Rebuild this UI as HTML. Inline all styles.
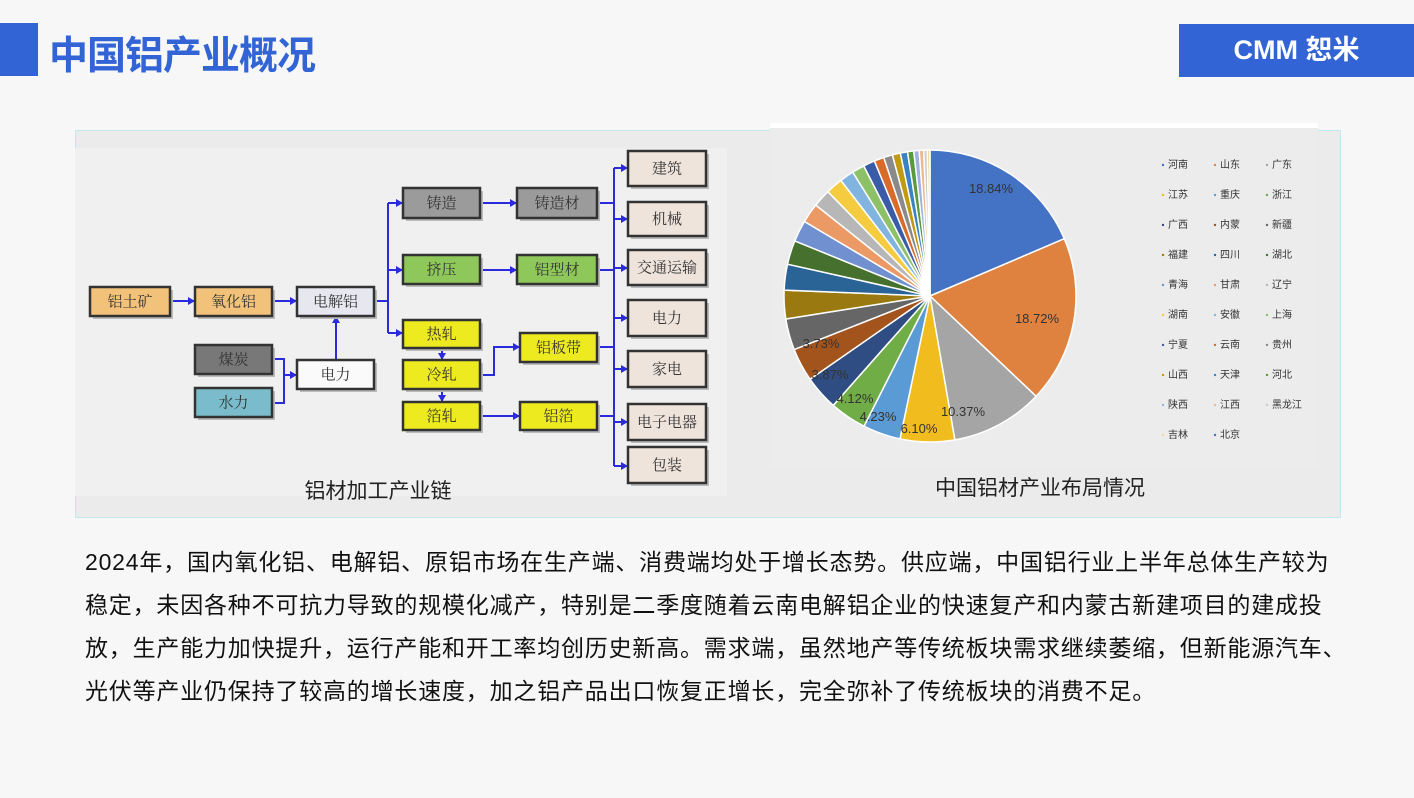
<!DOCTYPE html>
<html><head><meta charset="utf-8"><style>
body{margin:0;width:1414px;height:798px;background:#f7f7f7;overflow:hidden;position:relative;font-family:"Liberation Sans","Noto Sans CJK SC",sans-serif}
.bar{position:absolute;left:0;top:23px;width:38px;height:53px;background:#3264d6}
.title{position:absolute;left:49px;top:25px;font-size:39px;font-weight:bold;color:#3264d6;letter-spacing:-1px}
.logo{position:absolute;left:1179px;top:24px;width:235px;height:53px;background:#3264d6;color:#fff;font-size:27px;font-weight:bold;text-align:center;line-height:53px}
.box{position:absolute;left:75px;top:130px;width:1264px;height:386px;background:#ebebeb;border:1px solid #bfe9ec}
.para{position:absolute;left:85px;top:541px;font-size:23px;letter-spacing:0.8px;line-height:43px;color:#111;white-space:nowrap}
</style></head><body>
<div class="bar"></div>
<div class="title">中国铝产业概况</div>
<div class="logo">CMM 恕米</div>
<div class="box"></div>
<svg style="position:absolute;left:0;top:0" width="1414" height="798" font-family="Liberation Serif,Noto Serif CJK SC,serif">
<rect x="75" y="148" width="652" height="348" fill="#f0f0f0"/>
<rect x="770" y="123" width="548" height="344" fill="#ececec"/>
<rect x="770" y="123" width="548" height="5" fill="#fff"/>
<g stroke="#2b2bdc" stroke-width="2" fill="none">
<path d="M170 301H195M272 301H297M374 301H388M388 203V333M388 203H403M388 270H403M388 333H403M480 203H517M480 270H517M480 416H520M336 360V316M272 359H284V403H272M284 375H297M442 348V360M442 389V402M480 375H494V347H520M597 203H614M597 270H614M597 347H614M597 416H614M614 168V466M614 168H628M614 219H628M614 268H628M614 318H628M614 369H628M614 422H628M614 466H628"/>
</g>
<g fill="#2b2bdc">
<path d="M195 301l-7-4v8z M297 301l-7-4v8z M403 203l-7-4v8z M403 270l-7-4v8z M403 333l-7-4v8z M517 203l-7-4v8z M517 270l-7-4v8z M520 416l-7-4v8z M520 347l-7-4v8z M297 375l-7-4v8z M336 316l-4 7h8z M442 360l-4-7h8z M442 402l-4-7h8z"/>
<path d="M628 168l-7-4v8z M628 219l-7-4v8z M628 268l-7-4v8z M628 318l-7-4v8z M628 369l-7-4v8z M628 422l-7-4v8z M628 466l-7-4v8z"/>
</g>
<g stroke="#333" stroke-width="2.5" font-size="15" text-anchor="middle">
<g id="bx"></g>
</g>
<text x="378" y="498" font-size="21" text-anchor="middle" fill="#222" font-family="Liberation Sans,Noto Sans CJK SC,sans-serif">铝材加工产业链</text>
<text x="1040" y="495" font-size="21" text-anchor="middle" fill="#222" font-family="Liberation Sans,Noto Sans CJK SC,sans-serif">中国铝材产业布局情况</text>
<g id="pie"></g>
<g id="leg" font-size="10" font-family="Liberation Sans,Noto Sans CJK SC,sans-serif" fill="#333"></g>
</svg>
<div class="para">2024年，国内氧化铝、电解铝、原铝市场在生产端、消费端均处于增长态势。供应端，中国铝行业上半年总体生产较为<br>稳定，未因各种不可抗力导致的规模化减产，特别是二季度随着云南电解铝企业的快速复产和内蒙古新建项目的建成投<br>放，生产能力加快提升，运行产能和开工率均创历史新高。需求端，虽然地产等传统板块需求继续萎缩，但新能源汽车、<br>光伏等产业仍保持了较高的增长速度，加之铝产品出口恢复正增长，完全弥补了传统板块的消费不足。</div>
<script>
var ns="http://www.w3.org/2000/svg";
function el(t,a,p,tx){var e=document.createElementNS(ns,t);for(var k in a)e.setAttribute(k,a[k]);if(tx)e.textContent=tx;p.appendChild(e);return e;}
var B=[["铝土矿",90,287,80,29,"#f3c27a"],["氧化铝",195,287,77,29,"#f3c27a"],["电解铝",297,287,77,29,"#e6e7ef"],["煤炭",195,345,77,29,"#787878"],["水力",195,388,77,29,"#7bbccc"],["电力",297,360,77,29,"#fafafa"],
["铸造",403,188,77,30,"#9b9b9b"],["铸造材",517,188,80,30,"#9b9b9b"],["挤压",403,255,77,29,"#8fc85a"],["铝型材",517,255,80,29,"#8fc85a"],
["热轧",403,320,77,28,"#eeea20"],["冷轧",403,360,77,29,"#eeea20"],["箔轧",403,402,77,28,"#eeea20"],["铝板带",520,333,77,29,"#eeea20"],["铝箔",520,402,77,28,"#eeea20"],
["建筑",628,151,78,35,"#efe4dc"],["机械",628,202,78,34,"#efe4dc"],["交通运输",628,250,78,35,"#efe4dc"],["电力",628,300,78,36,"#efe4dc"],["家电",628,351,78,36,"#efe4dc"],["电子电器",628,404,78,36,"#efe4dc"],["包装",628,447,78,36,"#efe4dc"]];
var g=document.getElementById("bx");
B.forEach(function(b){el("rect",{x:b[1]+3,y:b[2]+3,width:b[3],height:b[4],fill:"#bbb",stroke:"none"},g);el("rect",{x:b[1],y:b[2],width:b[3],height:b[4],fill:b[5]},g);
el("text",{x:b[1]+b[3]/2,y:b[2]+b[4]/2+5,stroke:"none",fill:"#333"},g,b[0]);});
var v=[18.84,18.72,10.37,6.10,4.23,4.12,3.87,3.73,3.5,3.2,2.9,2.7,2.4,2.2,2.0,1.9,1.6,1.4,1.3,1.1,1.0,0.9,0.8,0.7,0.6,0.5,0.4,0.3];
var c=["#4472c4","#e0823f","#a5a5a5","#f0bc1e","#5b9bd5","#70ad47","#2f4d82","#a3541d","#666","#9a7a10","#2a6496","#46702e","#7090d0","#eb9a66","#b7b7b7","#f5cc40","#82b4e0","#8cc168","#3a5ca8","#d86a2a","#8a8a8a","#c09a10","#3b82c4","#5a9a3a","#9db2de","#f0b890","#ccc","#e9d79a"];
var s=0;for(var i=0;i<v.length;i++)s+=v[i];
var cx=930,cy=296,r=146,a=-Math.PI/2,p=document.getElementById("pie");
for(i=0;i<v.length;i++){var d=v[i]/s*2*Math.PI,a2=a+d;
el("path",{d:"M"+cx+" "+cy+"L"+(cx+r*Math.cos(a))+" "+(cy+r*Math.sin(a))+"A"+r+" "+r+" 0 "+(d>Math.PI?1:0)+" 1 "+(cx+r*Math.cos(a2))+" "+(cy+r*Math.sin(a2))+"Z",fill:c[i],stroke:"#fff","stroke-width":1.5},p);a=a2;}
var L=[["18.84%",991,193],["18.72%",1037,323],["10.37%",963,416],["6.10%",919,433],["4.23%",878,421],["4.12%",855,403],["3.87%",830,379],["3.73%",821,348]];
L.forEach(function(l){el("text",{x:l[1],y:l[2],"font-size":13,"text-anchor":"middle",fill:"#333","font-family":"Liberation Sans,sans-serif"},p,l[0]);});
var N=["河南","山东","广东","江苏","重庆","浙江","广西","内蒙","新疆","福建","四川","湖北","青海","甘肃","辽宁","湖南","安徽","上海","宁夏","云南","贵州","山西","天津","河北","陕西","江西","黑龙江","吉林","北京"];
var lg=document.getElementById("leg");
N.forEach(function(n,k){var x=1163+(k%3)*52,y=168+Math.floor(k/3)*30;el("circle",{cx:x,cy:y-3,r:1.2,fill:c[k%c.length]},lg);el("text",{x:x+5,y:y},lg,n);});
</script>
</body></html>
